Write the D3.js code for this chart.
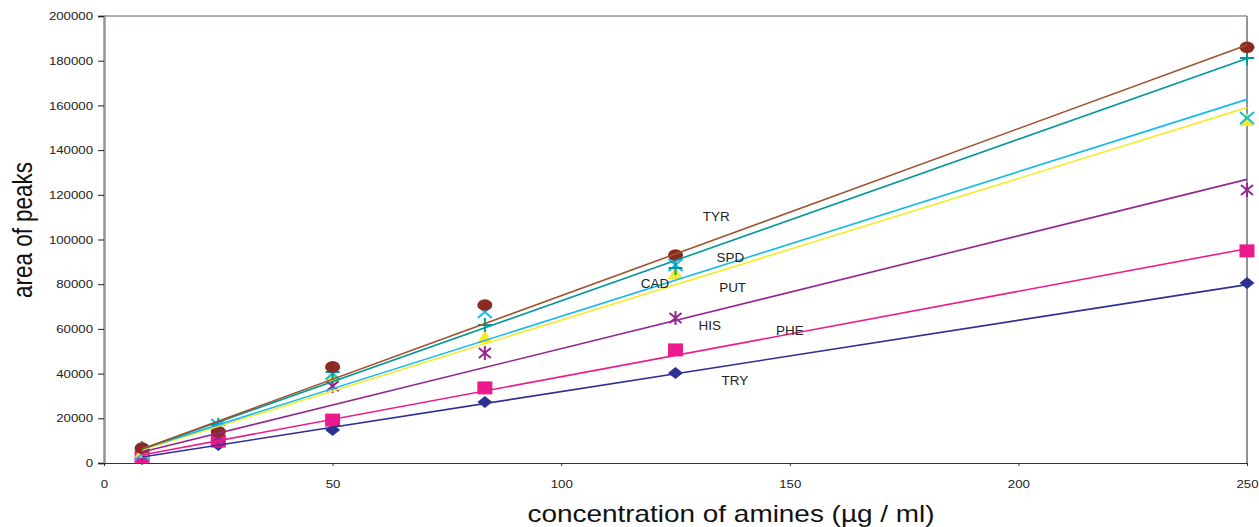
<!DOCTYPE html>
<html><head><meta charset="utf-8">
<script src="https://cdn.jsdelivr.net/npm/d3@7"></script>
<style>
body{margin:0;background:#fff;}
svg{display:block;font-family:"Liberation Sans",Arial,sans-serif;}
</style></head><body>
<svg id="c" width="1259" height="527"></svg>
<script>
const conc = [8.33, 25, 50, 83.3, 125, 250];
const seriesNames = ["TYR","SPD","CAD","PUT","HIS","PHE","TRY"];
const TYR = [6700, 14000, 43000, 70700, 93000, 186000];
const SPD = [6700, 17000, 40700, 61700, 87200, 181200];
const CAD = [4000, 17000, 40000, 67600, 88600, 154400];
const PUT = [5000, 15700, 39400, 56400, 85000, 153500];
const HIS = [3600, 11600, 34400, 49200, 64900, 122100];
const PHE = [2700, 9800, 19200, 33600, 50600, 94900];
const TRY = [1800, 8000, 14800, 27300, 40300, 80500];
// linear trendline values at the first and last concentration (same order as seriesNames)
const trendStart = [6300, 6300, 6300, 5800, 4900, 3600, 2700];
const trendEnd   = [187000, 181000, 162700, 159000, 126900, 95900, 79800];
const xTicks = [0, 50, 100, 150, 200, 250];
const yTicks = [0,20000,40000,60000,80000,100000,120000,140000,160000,180000,200000];
// label anchors in data units [conc, area]
const labelAnchors = {TYR:[133.9,110000], SPD:[137,92000], CAD:[120.5,80000], PUT:[137.5,78500], HIS:[132.5,61500], PHE:[150,59300], TRY:[138,36700]};

const values = {TYR,SPD,CAD,PUT,HIS,PHE,TRY};
const style = {
  TYR:{line:"#A0522D", mark:"#8B2A22", shape:"circle"},
  SPD:{line:"#00979C", mark:"#00979C", shape:"plus"},
  CAD:{line:"#14B9EE", mark:"#14B9EE", shape:"x"},
  PUT:{line:"#F7EA2A", mark:"#F7EA2A", shape:"triangle"},
  HIS:{line:"#93278F", mark:"#93278F", shape:"star"},
  PHE:{line:"#EC1A8C", mark:"#EC1A8C", shape:"square"},
  TRY:{line:"#2E3192", mark:"#2E3192", shape:"diamond"}
};

const svg = d3.select("#c");
const L=104, R=1247, T=16, B=463;
const x = d3.scaleLinear().domain([0,250]).range([L,R]);
const y = d3.scaleLinear().domain([0,200000]).range([B,T]);

function stretch(sel, k){
  sel.each(function(){
    const w=this.getComputedTextLength();
    d3.select(this).attr("textLength", w*k).attr("lengthAdjust","spacingAndGlyphs");
  });
}

// frame
svg.append("line").attr("x1",L).attr("x2",R).attr("y1",T).attr("y2",T).attr("stroke","#8d959c").attr("stroke-width",1.5);
svg.append("line").attr("x1",R).attr("x2",R).attr("y1",T).attr("y2",B).attr("stroke","#8d959c").attr("stroke-width",2);

// y axis
const ya = svg.append("g").attr("transform",`translate(${L},0)`)
  .call(d3.axisLeft(y).tickValues(yTicks).tickFormat(d3.format("d")).tickSize(6).tickPadding(5));
ya.select(".domain").attr("stroke","#8d959c").attr("stroke-width",2.5);
ya.selectAll(".tick line").attr("stroke","#222");
ya.selectAll("text").attr("font-size",11.5).attr("fill","#222").attr("font-family","Liberation Sans, Arial, sans-serif");
stretch(ya.selectAll("text"), 1.15);

// x axis
const xa = svg.append("g").attr("transform",`translate(0,${B})`)
  .call(d3.axisBottom(x).tickValues(xTicks).tickSize(3).tickPadding(14).tickSizeOuter(0));
xa.select(".domain").attr("stroke","#333").attr("stroke-width",1.2);
xa.selectAll(".tick line").attr("stroke","#333");
xa.selectAll("text").attr("font-size",11.5).attr("fill","#222").attr("font-family","Liberation Sans, Arial, sans-serif");
stretch(xa.selectAll("text"), 1.15);

// titles
svg.append("text").attr("x",731).attr("y",522).attr("text-anchor","middle").attr("font-size",24).attr("fill","#111")
  .attr("textLength",407).attr("lengthAdjust","spacingAndGlyphs")
  .text("concentration of amines (µg / ml)");
svg.append("text").attr("transform","translate(32,230) rotate(-90) scale(1,1.28)").attr("text-anchor","middle").attr("font-size",22).attr("fill","#111")
  .attr("textLength",136).attr("lengthAdjust","spacingAndGlyphs")
  .text("area of peaks");

const lineGen = d3.line().x(d=>x(d[0])).y(d=>y(d[1]));
const drawOrder = ["TRY","PHE","HIS","PUT","CAD","SPD","TYR"];

function marker(g, shape, cx, cy, col){
  if(shape==="circle") g.append("ellipse").attr("cx",cx).attr("cy",cy).attr("rx",7.5).attr("ry",5.8).attr("fill",col);
  else if(shape==="square") g.append("rect").attr("x",cx-7.5).attr("y",cy-6.5).attr("width",15).attr("height",13).attr("fill",col);
  else if(shape==="diamond") g.append("path").attr("d",`M${cx-7.5},${cy}L${cx},${cy-6}L${cx+7.5},${cy}L${cx},${cy+6}Z`).attr("fill",col);
  else if(shape==="triangle") g.append("path").attr("d",`M${cx},${cy-7}L${cx+7.5},${cy+6}L${cx-7.5},${cy+6}Z`).attr("fill",col);
  else if(shape==="plus") g.append("path").attr("d",`M${cx-7},${cy}L${cx+7},${cy}M${cx},${cy-7}L${cx},${cy+7}`).attr("stroke",col).attr("stroke-width",2);
  else if(shape==="x") g.append("path").attr("d",`M${cx-7},${cy-6}L${cx+7},${cy+6}M${cx+7},${cy-6}L${cx-7},${cy+6}`).attr("stroke",col).attr("stroke-width",2);
  else if(shape==="star") g.append("path").attr("d",`M${cx-6},${cy-5}L${cx+6},${cy+5}M${cx+6},${cy-5}L${cx-6},${cy+5}M${cx},${cy-7}L${cx},${cy+7}`).attr("stroke",col).attr("stroke-width",2);
}

const gm = svg.append("g");
drawOrder.forEach(k=>{
  const s=style[k];
  values[k].forEach((v,i)=>marker(gm, s.shape, x(conc[i]), y(v), s.mark));
});
const gl = svg.append("g");
drawOrder.forEach(k=>{
  const i=seriesNames.indexOf(k);
  const x0=d3.min(conc), x1=d3.max(conc);
  gl.append("path").attr("d",lineGen([[x0,trendStart[i]],[x1,trendEnd[i]]]))
    .attr("stroke",style[k].line).attr("stroke-width",1.6).attr("fill","none");
});

// labels
const gt = svg.append("g");
seriesNames.forEach(k=>{
  const p=labelAnchors[k];
  gt.append("text").attr("x",x(p[0])).attr("y",y(p[1])).attr("dy","0.35em").attr("text-anchor","middle")
    .attr("font-size",12).attr("fill","#222").text(k);
});
stretch(gt.selectAll("text"), 1.12);
</script>
</body></html>
